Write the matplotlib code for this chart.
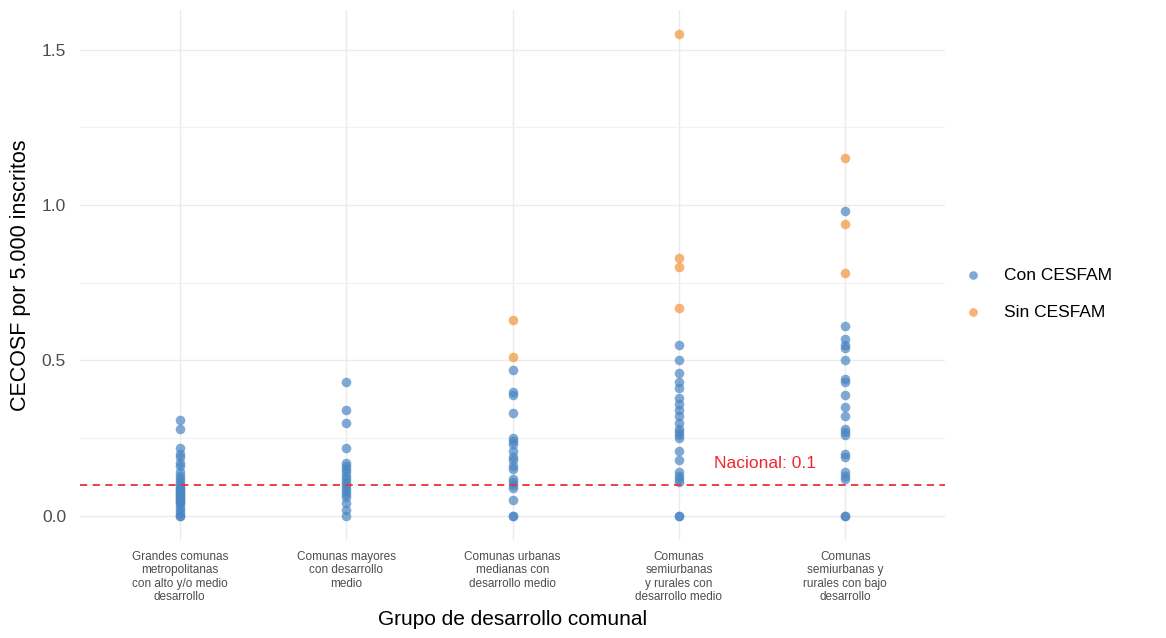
import numpy as np
import matplotlib.pyplot as plt

plt.rcParams['font.family'] = ['Liberation Sans', 'DejaVu Sans']

grupos = ["Grandes comunas\nmetropolitanas\ncon alto y/o medio\ndesarrollo",
          "Comunas mayores\ncon desarrollo\nmedio",
          "Comunas urbanas\nmedianas con\ndesarrollo medio",
          "Comunas\nsemiurbanas\ny rurales con\ndesarrollo medio",
          "Comunas\nsemiurbanas y\nrurales con bajo\ndesarrollo"]

# CECOSF por 5.000 inscritos, comunas con CESFAM
con_g1 = [0.31, 0.28, 0.22, 0.20, 0.19, 0.17, 0.16, 0.14, 0.13, 0.12, 0.11, 0.10, 0.09, 0.09,
          0.08, 0.08, 0.07, 0.07, 0.06, 0.06, 0.05, 0.05, 0.04, 0.04, 0.03, 0.02, 0.01, 0.0, 0.0]
con_g2 = [0.43, 0.34, 0.30, 0.22, 0.17, 0.16, 0.15, 0.14, 0.13, 0.12, 0.11, 0.10, 0.09, 0.08,
          0.07, 0.06, 0.04, 0.02, 0.0]
con_g3 = [0.47, 0.40, 0.39, 0.33, 0.25, 0.24, 0.23, 0.21, 0.19, 0.18, 0.16, 0.15, 0.12, 0.11,
          0.10, 0.09, 0.05, 0.0, 0.0]
con_g4 = [0.55, 0.50, 0.46, 0.43, 0.41, 0.38, 0.36, 0.34, 0.32, 0.30, 0.28, 0.27, 0.26, 0.25,
          0.21, 0.18, 0.14, 0.13, 0.12, 0.11, 0.0, 0.0]
con_g5 = [0.98, 0.61, 0.57, 0.55, 0.54, 0.50, 0.44, 0.43, 0.39, 0.35, 0.32, 0.28, 0.27, 0.26,
          0.20, 0.19, 0.14, 0.13, 0.12, 0.0, 0.0]

# comunas sin CESFAM
sin_g3 = [0.63, 0.51]
sin_g4 = [1.55, 0.83, 0.80, 0.67]
sin_g5 = [1.15, 0.94, 0.78]

nacional = 0.1

con = [con_g1, con_g2, con_g3, con_g4, con_g5]
sin = [[], [], sin_g3, sin_g4, sin_g5]

azul = "#4A86C2"
naranja = "#F29B45"

fig = plt.figure(figsize=(11.66, 6.38), dpi=100)
ax = fig.add_axes([0.0686, 0.1536, 0.8105 - 0.0686, 0.9843 - 0.1536])

for i, vals in enumerate(con):
    ax.scatter(np.full(len(vals), i + 1), vals, s=48, color=azul, alpha=0.7,
               linewidths=0, zorder=3, label="Con CESFAM" if i == 0 else None)
for i, vals in enumerate(sin):
    if vals:
        ax.scatter(np.full(len(vals), i + 1), vals, s=48, color=naranja, alpha=0.75,
                   linewidths=0, zorder=3, label="Sin CESFAM" if i == 2 else None)

ax.axhline(nacional, color="#E8313A", ls=(0, (4, 3)), lw=1.3, zorder=4)
ax.text(4.52, 0.17, "Nacional: 0.1", color="#F0282D", fontsize=12.5,
        ha="center", va="center")

ax.set_xlim(0.4, 5.6)
ax.set_ylim(-0.0775, 1.6275)
ax.set_xticks(range(1, 6))
ax.set_xticklabels(grupos, fontsize=8.5, color="#4D4D4D", linespacing=1.15)
ax.set_yticks([0, 0.5, 1.0, 1.5])
ax.set_yticklabels(["0.0", "0.5", "1.0", "1.5"], fontsize=12.5, color="#4D4D4D")
ax.set_yticks([0.25, 0.75, 1.25], minor=True)
ax.tick_params(length=0, which="both")
ax.tick_params(axis="x", pad=8)
ax.tick_params(axis="y", pad=10)
ax.grid(True, which="major", color="#EBEBEB", lw=1.0, zorder=0)
ax.grid(True, which="minor", axis="y", color="#F2F2F2", lw=0.8, zorder=0)
for s in ax.spines.values():
    s.set_visible(False)

ax.set_xlabel("Grupo de desarrollo comunal", fontsize=15, labelpad=5)
ax.set_ylabel("CECOSF por 5.000 inscritos", fontsize=15.5, labelpad=8)

leg = ax.legend(loc="center left", bbox_to_anchor=(0.994, 0.465), frameon=False,
                fontsize=12.5, markerscale=0.9, handletextpad=0.8, labelspacing=1.25)

plt.savefig("out.png", dpi=100, facecolor="white")
